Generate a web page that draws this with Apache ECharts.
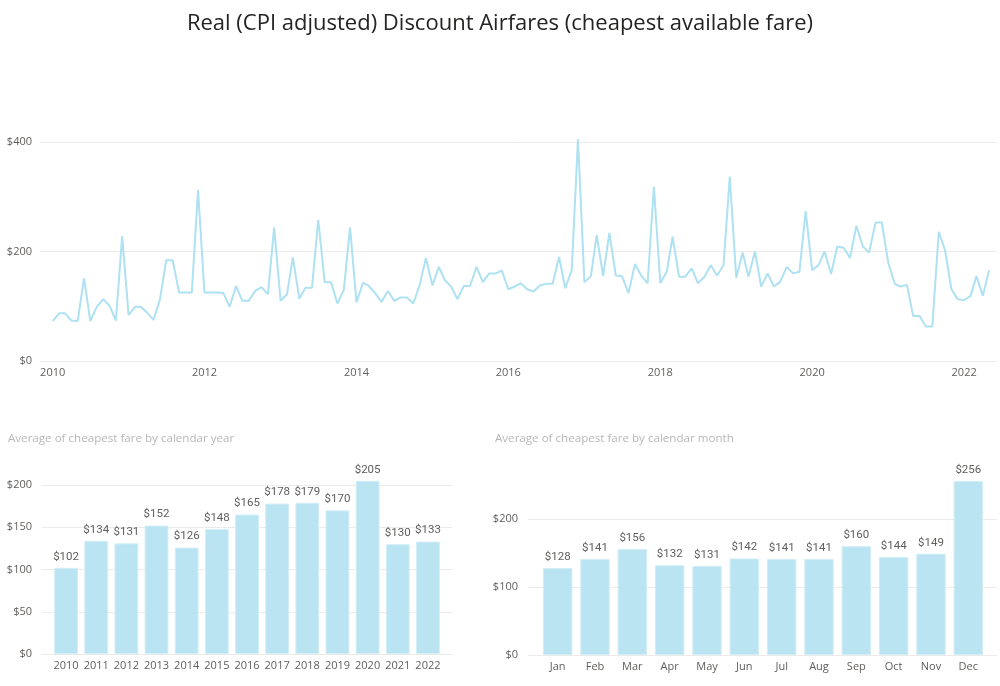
<!DOCTYPE html>
<html>
<head>
<meta charset="utf-8">
<script src="https://cdn.jsdelivr.net/npm/echarts@6/dist/echarts.min.js"></script>
<style>
html,body{margin:0;padding:0;background:#fff;}
#main{width:1000px;height:686px;}
</style>
</head>
<body>
<div id="main"></div>
<script>
// ---- data ----
const titleText = 'Real (CPI adjusted) Discount Airfares (cheapest available fare)';
const yearSubtitle = 'Average of cheapest fare by calendar year';
const monthSubtitle = 'Average of cheapest fare by calendar month';

const fares2010 = [73, 87, 87, 74, 73, 151, 73, 99, 113, 101, 74, 228];
const fares2011 = [84, 99, 99, 88, 75, 113, 184, 184, 125, 125, 125, 312];
const fares2012 = [125, 125, 125, 124, 99, 137, 110, 110, 128, 135, 122, 244];
const fares2013 = [110, 122, 189, 114, 134, 134, 258, 144, 144, 105, 130, 244];
const fares2014 = [107, 143, 137, 124, 108, 128, 110, 116, 116, 105, 139, 188];
const fares2015 = [138, 172, 148, 136, 113, 137, 137, 172, 144, 160, 160, 165];
const fares2016 = [131, 136, 142, 131, 127, 138, 141, 141, 190, 133, 166, 405];
const fares2017 = [144, 155, 230, 155, 234, 156, 155, 124, 177, 156, 142, 318];
const fares2018 = [142, 163, 227, 154, 154, 169, 142, 154, 175, 156, 175, 337];
const fares2019 = [152, 198, 154, 200, 136, 160, 136, 145, 172, 160, 163, 274];
const fares2020 = [166, 175, 200, 159, 209, 207, 188, 247, 209, 198, 253, 253];
const fares2021 = [180, 141, 136, 139, 82, 82, 63, 63, 236, 202, 131, 113];
const fares2022 = [111, 119, 155, 119, 166];

const lineYears = [2010, 2011, 2012, 2013, 2014, 2015, 2016, 2017, 2018, 2019, 2020, 2021, 2022];
const lineFaresByYear = [fares2010, fares2011, fares2012, fares2013, fares2014, fares2015, fares2016,
  fares2017, fares2018, fares2019, fares2020, fares2021, fares2022];
const lineTickYears = [2010, 2012, 2014, 2016, 2018, 2020, 2022];
const lineAxisStart = '2009-11-01';
const lineAxisEnd = '2022-06-08';

const yearCategories = ['2010','2011','2012','2013','2014','2015','2016','2017','2018','2019','2020','2021','2022'];
const yearAverages = [102, 134, 131, 152, 126, 148, 165, 178, 179, 170, 205, 130, 133];

const monthCategories = ['Jan','Feb','Mar','Apr','May','Jun','Jul','Aug','Sep','Oct','Nov','Dec'];
const monthAverages = [128, 141, 156, 132, 131, 142, 141, 141, 160, 144, 149, 256];

// ---- build ----
const toTime = s => Date.parse(s + 'T00:00:00Z');
const lineData = [];
lineYears.forEach((y, i) => {
  lineFaresByYear[i].forEach((v, m) => {
    lineData.push([toTime(y + '-' + String(m + 1).padStart(2, '0') + '-01'), v]);
  });
});
const tickTimes = lineTickYears.map(y => toTime(y + '-01-01'));

const axisTextColor = '#605e5c';
const gridColor = '#edebe9';
const lineColor = '#aee1f2';
const barColor = '#bae4f2';
const uiFont = '"Open Sans", "Noto Sans", sans-serif';
const numFont = 'Roboto, "DejaVu Sans", sans-serif';
const dollar = v => '$' + v;

const chart = echarts.init(document.getElementById('main'), null, {renderer: 'canvas'});
chart.setOption({
  animation: false,
  backgroundColor: '#ffffff',
  title: [
    {text: titleText, left: 'center', top: 8,
     textStyle: {fontFamily: uiFont, fontSize: 22, fontWeight: 'normal', color: '#252423'}},
    {text: yearSubtitle, left: 3, top: 428,
     textStyle: {fontFamily: uiFont, fontSize: 11.6, fontWeight: 'normal', color: '#b9b7b5'}},
    {text: monthSubtitle, left: 490, top: 428,
     textStyle: {fontFamily: uiFont, fontSize: 11.6, fontWeight: 'normal', color: '#b9b7b5'}}
  ],
  grid: [
    {left: 40, right: 3, top: 142, bottom: 325},
    {left: 42, width: 410, top: 485, bottom: 32},
    {left: 51, width: 392, top: 485, bottom: 32},
    {left: 528, right: 3, top: 519, bottom: 31},
    {left: 539, width: 448, top: 519, bottom: 31}
  ],
  xAxis: [
    {type: 'value', gridIndex: 0, min: toTime(lineAxisStart), max: toTime(lineAxisEnd),
     axisLine: {show: false}, axisTick: {show: false}, splitLine: {show: false},
     axisLabel: {customValues: tickTimes, color: axisTextColor, fontFamily: uiFont, fontSize: 11, margin: 6,
       formatter: v => String(new Date(v).getUTCFullYear())}},
    {type: 'value', gridIndex: 1, show: false, min: 0, max: 1},
    {type: 'category', gridIndex: 2, data: yearCategories,
     axisLine: {show: false}, axisTick: {show: false},
     axisLabel: {color: axisTextColor, fontFamily: uiFont, fontSize: 11, margin: 6, interval: 0}},
    {type: 'value', gridIndex: 3, show: false, min: 0, max: 1},
    {type: 'category', gridIndex: 4, data: monthCategories,
     axisLine: {show: false}, axisTick: {show: false},
     axisLabel: {color: axisTextColor, fontFamily: uiFont, fontSize: 11, margin: 6, interval: 0}}
  ],
  yAxis: [
    {type: 'value', gridIndex: 0, min: 0, max: 400, interval: 200,
     axisLine: {show: false}, axisTick: {show: false},
     splitLine: {lineStyle: {color: gridColor, width: 1}},
     axisLabel: {color: axisTextColor, fontFamily: uiFont, fontSize: 11, margin: 8, formatter: dollar}},
    {type: 'value', gridIndex: 1, min: 0, max: 200, interval: 50,
     axisLine: {show: false}, axisTick: {show: false},
     splitLine: {lineStyle: {color: gridColor, width: 1}},
     axisLabel: {color: axisTextColor, fontFamily: uiFont, fontSize: 11, margin: 10, formatter: dollar}},
    {type: 'value', gridIndex: 2, min: 0, max: 200, interval: 50, show: false},
    {type: 'value', gridIndex: 3, min: 0, max: 200, interval: 100,
     axisLine: {show: false}, axisTick: {show: false},
     splitLine: {lineStyle: {color: gridColor, width: 1}},
     axisLabel: {color: axisTextColor, fontFamily: uiFont, fontSize: 11, margin: 10, formatter: dollar}},
    {type: 'value', gridIndex: 4, min: 0, max: 200, interval: 100, show: false}
  ],
  series: [
    {type: 'line', xAxisIndex: 0, yAxisIndex: 0, data: lineData, showSymbol: false, clip: false,
     lineStyle: {color: lineColor, width: 2}, itemStyle: {color: lineColor}},
    {type: 'bar', xAxisIndex: 2, yAxisIndex: 2, data: yearAverages, clip: false, barCategoryGap: '21%',
     itemStyle: {color: barColor, borderColor: '#d2eef7', borderWidth: 1},
     label: {show: true, position: 'top', distance: 5, formatter: p => dollar(p.value),
       color: axisTextColor, fontFamily: numFont, fontSize: 11.5}},
    {type: 'bar', xAxisIndex: 4, yAxisIndex: 4, data: monthAverages, clip: false, barCategoryGap: '21%',
     itemStyle: {color: barColor, borderColor: '#d2eef7', borderWidth: 1},
     label: {show: true, position: 'top', distance: 5, formatter: p => dollar(p.value),
       color: axisTextColor, fontFamily: numFont, fontSize: 11.5}}
  ]
});
</script>
</body>
</html>
